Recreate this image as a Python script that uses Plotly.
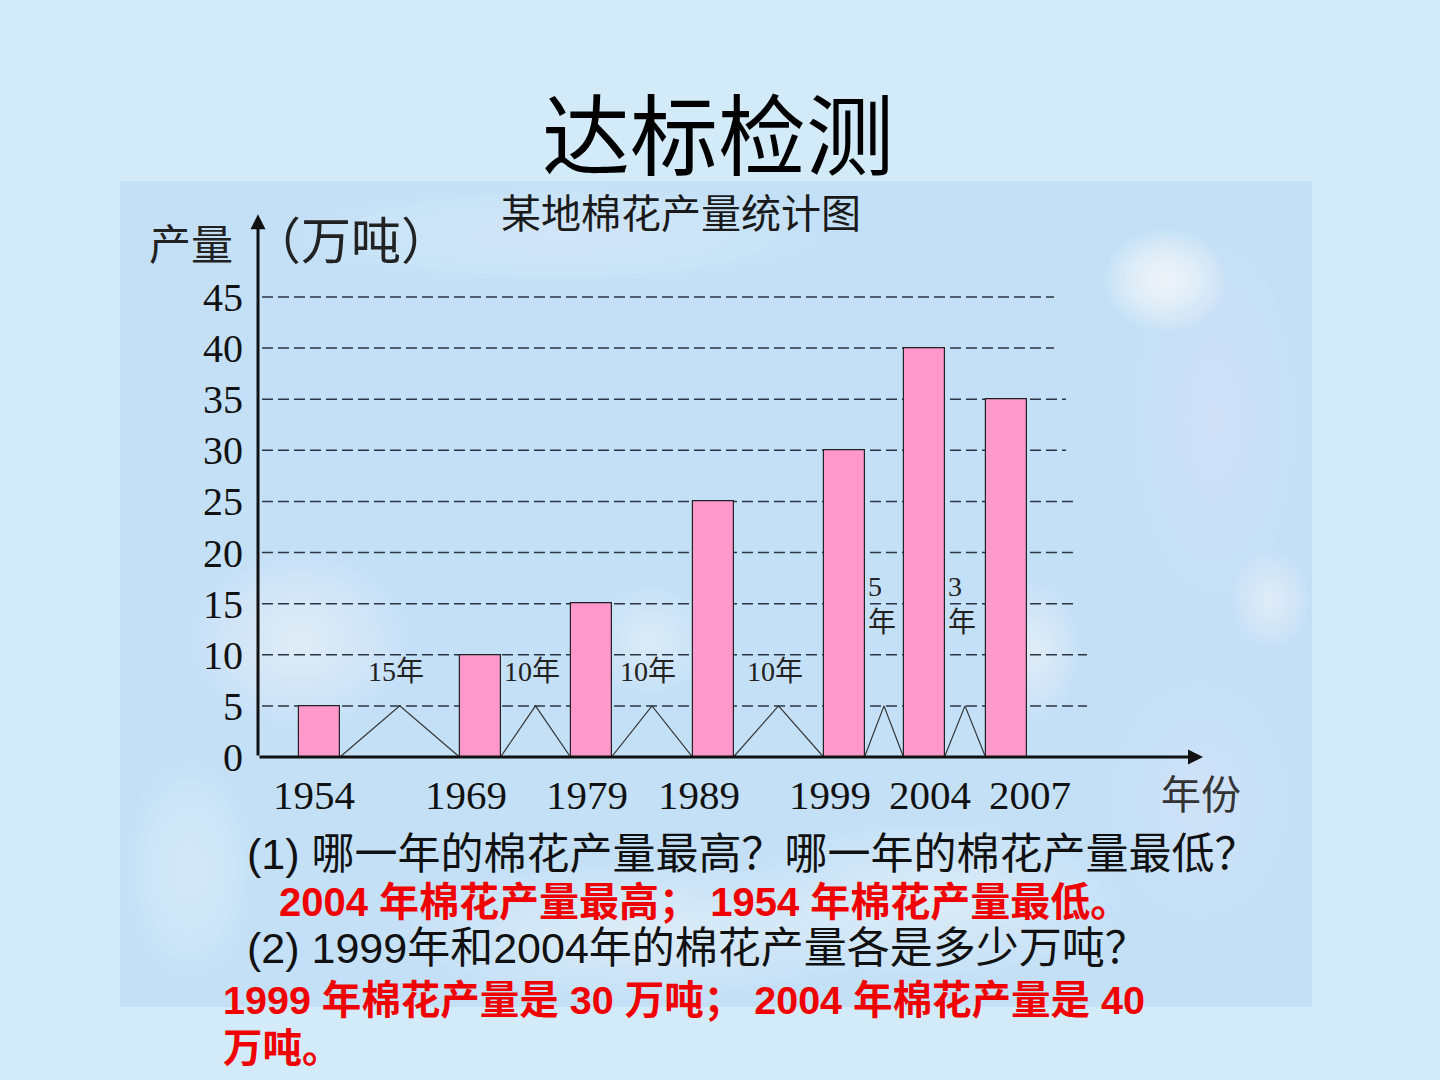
import plotly.graph_objects as go

# ---------------- data ----------------
years = [1954, 1969, 1979, 1989, 1999, 2004, 2007]
output_wan_ton = [5, 10, 15, 25, 30, 40, 35]
# compressed position of each year on the drawn time axis (axis units)
x_slot = [6.15, 22.2, 33.3, 45.5, 58.6, 66.6, 74.8]
y_ticks = [0, 5, 10, 15, 20, 25, 30, 35, 40, 45]
grid_end = {45: 79.6, 40: 79.6, 35: 80.8, 30: 80.8, 25: 81.9, 20: 81.9, 15: 81.9, 10: 82.9, 5: 82.9}

title_text = "达标检测"
chart_title = "某地棉花产量统计图"
q1 = "(1) 哪一年的棉花产量最高？哪一年的棉花产量最低？"
a1 = "2004 年棉花产量最高； 1954 年棉花产量最低。"
q2 = "(2) 1999年和2004年的棉花产量各是多少万吨？"
a2a = "1999 年棉花产量是 30 万吨； 2004 年棉花产量是 40"
a2b = "万吨。"

# ---------------- geometry / style ----------------
W, H = 1440, 1080
X0_PX, XUNIT = 258, 10.0          # x=0 at pixel 258, 10 px per unit
Y0_PX, YUNIT = 757, 10.222        # y=0 at pixel 757
XR = [0, 94.7]
YR = [0, 53.2]
BAR_W = 4.1
TRI_H = 5
year_label_xshift = [-6, -14, -4, -14, -14, 6, 24]   # px nudges of year labels

def px_x(px):
    return px / W

def px_y(py):
    return 1 - py / H

xdom = [px_x(X0_PX + XR[0] * XUNIT), px_x(X0_PX + XR[1] * XUNIT)]
ydom = [px_y(Y0_PX - YR[0] * YUNIT), px_y(Y0_PX - YR[1] * YUNIT)]

CJK = "Liberation Sans, Noto Sans CJK SC"
SERIF = "Liberation Serif, Noto Sans CJK SC"

fig = go.Figure()

# bars
fig.add_trace(go.Bar(
    x=x_slot, y=output_wan_ton, width=BAR_W,
    marker=dict(color="#ff99cc", line=dict(color="#222222", width=1.2)),
    showlegend=False, hoverinfo="skip",
))

# interval triangles between bars
tx, ty = [], []
gaps = []
for i in range(len(years) - 1):
    left = x_slot[i] + BAR_W / 2
    right = x_slot[i + 1] - BAR_W / 2
    peak = (left + right) / 2
    tx += [left, peak, right, None]
    ty += [0, TRI_H, 0, None]
    gaps.append((left, peak, right, years[i + 1] - years[i]))
fig.add_trace(go.Scatter(
    x=tx, y=ty, mode="lines",
    line=dict(color="#333333", width=1.2),
    showlegend=False, hoverinfo="skip",
))

shapes = []
# chart panel background
shapes.append(dict(type="rect", xref="paper", yref="paper",
                   x0=px_x(120), x1=px_x(1312), y0=px_y(1007), y1=px_y(181),
                   fillcolor="#c3e0f7", line=dict(width=0), layer="below"))

def blob(cx, cy, rx, ry, steps=12, op=0.06):
    for k in range(steps):
        f = 1 - k / steps
        shapes.append(dict(type="circle", xref="paper", yref="paper",
                           x0=px_x(cx - rx * f), x1=px_x(cx + rx * f),
                           y0=px_y(cy + ry * f), y1=px_y(cy - ry * f),
                           fillcolor="white", opacity=op, line=dict(width=0),
                           layer="below"))

blob(300, 640, 110, 90, op=0.06)
blob(1165, 280, 60, 50, op=0.10)
blob(1215, 420, 90, 190, op=0.025)
blob(640, 930, 250, 70, op=0.05)
blob(930, 900, 190, 80, op=0.05)
blob(190, 870, 65, 110, op=0.04)
blob(560, 235, 260, 50, op=0.035)
blob(650, 640, 60, 55, op=0.05)
blob(1035, 650, 45, 70, op=0.06)
blob(1270, 600, 40, 50, op=0.06)
blob(1200, 800, 90, 120, op=0.03)

# dashed grid lines
for v in y_ticks[1:]:
    shapes.append(dict(type="line", xref="x", yref="y",
                       x0=0.4, x1=grid_end[v], y0=v, y1=v,
                       line=dict(color="#2b3644", width=1.5, dash="11px,5px"),
                       layer="below"))

ann = []
# axis arrows
ann.append(dict(x=XR[1] - 0.2, y=0, ax=0, ay=0, xref="x", yref="y", axref="x", ayref="y",
                showarrow=True, arrowhead=2, arrowsize=1, arrowwidth=3,
                arrowcolor="#111111", text=""))
ann.append(dict(x=0, y=YR[1] - 0.1, ax=0, ay=0, xref="x", yref="y", axref="x", ayref="y",
                showarrow=True, arrowhead=2, arrowsize=1, arrowwidth=3,
                arrowcolor="#111111", text=""))

# year labels under the bars
for xs, yr, sh in zip(x_slot, years, year_label_xshift):
    ann.append(dict(x=xs, y=px_y(795), xref="x", yref="paper", text=str(yr),
                    xshift=sh, showarrow=False, yanchor="middle",
                    font=dict(family=SERIF, size=41, color="#111111")))

# interval labels
for left, peak, right, span in gaps:
    if (right - left) * XUNIT > 60:
        ann.append(dict(x=peak - 0.4, y=8.4, xref="x", yref="y", text=f"{span}年",
                        showarrow=False, font=dict(family=SERIF, size=28, color="#222222")))
    else:
        ann.append(dict(x=left + 0.1, y=14.9, xref="x", yref="y", text=f"{span}<br>年",
                        xanchor="left", align="left", showarrow=False,
                        font=dict(family=SERIF, size=28, color="#222222")))

def txt(text, x, y, size, color="#111111", family=CJK, xanchor="center", bold=False):
    if bold:
        text = f"<b>{text}</b>"
    ann.append(dict(x=px_x(x), y=px_y(y), xref="paper", yref="paper", text=text,
                    showarrow=False, xanchor=xanchor, yanchor="middle",
                    font=dict(family=family, size=size, color=color)))

txt(title_text, 718, 137, 88, "#000000")
txt(chart_title, 681, 214, 40, "#1a1a1a")
txt("产量", 191, 245, 42, "#222222")
txt("（万吨）", 351, 242, 50, "#222222")
txt("年份", 1201, 795, 40, "#333333")
txt(q1, 245, 854, 43, "#111111", xanchor="left")
txt(q2, 245, 948, 43, "#111111", xanchor="left")
txt(a1, 277, 902, 40, "#f00000", xanchor="left", bold=True)
txt(a2a, 221, 1000, 39.5, "#f00000", xanchor="left", bold=True)
txt(a2b, 221, 1048, 39.5, "#f00000", xanchor="left", bold=True)

fig.update_layout(
    width=W, height=H, margin=dict(l=0, r=0, t=0, b=0),
    paper_bgcolor="#d3ebf8", plot_bgcolor="rgba(0,0,0,0)",
    shapes=shapes, annotations=ann, bargap=0,
    xaxis=dict(domain=xdom, range=XR, showgrid=False, zeroline=False, showline=False,
               tickvals=x_slot, showticklabels=False, ticks="",
               automargin=False, fixedrange=True),
    yaxis=dict(domain=ydom, range=YR, showgrid=False, zeroline=False, showline=False,
               tickvals=y_ticks, ticks="", automargin=False, ticklabelstandoff=14,
               tickfont=dict(family=SERIF, size=40, color="#111111"), fixedrange=True),
    showlegend=False,
)

fig.write_html("out.html")
